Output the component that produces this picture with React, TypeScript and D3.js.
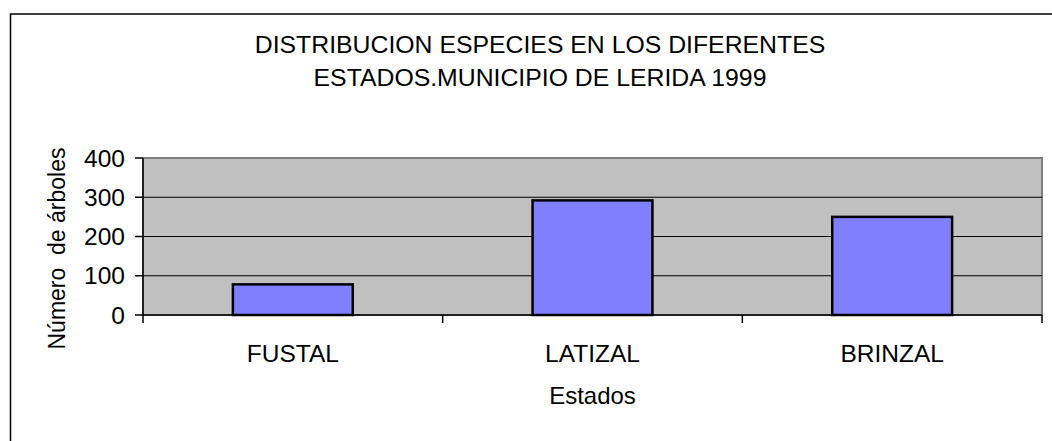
import React, { useEffect, useRef } from 'react';
import * as d3 from 'd3';

const categories = ['FUSTAL', 'LATIZAL', 'BRINZAL'];
const values = [78, 292, 250];
const yTicks = [0, 100, 200, 300, 400];
const titleLines = ['DISTRIBUCION ESPECIES EN LOS DIFERENTES', 'ESTADOS.MUNICIPIO DE LERIDA 1999'];
const xTitle = 'Estados';
const yTitle = 'Número  de árboles';

const W = 1052;
const H = 441;
const FONT = '"Liberation Sans", Arial, sans-serif';

const drawChart = (svgEl: SVGSVGElement) => {
    const svg = d3.select(svgEl);
    svg.selectAll('*').remove();

    const plot = { left: 143, right: 1042, top: 158, bottom: 315 };

    // outer chart border (right and bottom fall outside the picture)
    svg.append('rect')
        .attr('x', 10.5)
        .attr('y', 14)
        .attr('width', 1200)
        .attr('height', 600)
        .attr('fill', '#fff')
        .attr('stroke', '#000')
        .attr('stroke-width', 1.5);

    // --- Title ---
    titleLines.forEach((line, i) => {
        svg.append('text')
            .attr('x', 540)
            .attr('y', 53 + i * 33)
            .attr('text-anchor', 'middle')
            .style('font-family', FONT)
            .style('font-size', '24.8px')
            .style('fill', '#000')
            .text(line);
    });

    // --- Scales ---
    const x = d3.scaleBand<string>()
        .domain(categories)
        .range([plot.left, plot.right])
        .paddingInner(0.6)
        .paddingOuter(0.3);

    const y = d3.scaleLinear()
        .domain([0, 400])
        .range([plot.bottom, plot.top]);

    // plot background
    svg.append('rect')
        .attr('x', plot.left)
        .attr('y', plot.top)
        .attr('width', plot.right - plot.left)
        .attr('height', plot.bottom - plot.top)
        .attr('fill', '#c0c0c0')
        .attr('stroke', '#808080')
        .attr('stroke-width', 2);

    // gridlines
    svg.append('g')
        .selectAll('line')
        .data(yTicks.filter(t => t > 0 && t < 400))
        .enter()
        .append('line')
        .attr('x1', plot.left)
        .attr('x2', plot.right)
        .attr('y1', d => y(d))
        .attr('y2', d => y(d))
        .attr('stroke', '#000')
        .attr('stroke-width', 1);

    // --- Bars ---
    svg.append('g')
        .selectAll('rect')
        .data(values)
        .enter()
        .append('rect')
        .attr('x', (_d, i) => x(categories[i]) as number)
        .attr('y', d => y(d))
        .attr('width', x.bandwidth())
        .attr('height', d => y(0) - y(d))
        .attr('fill', '#8080ff')
        .attr('stroke', '#000')
        .attr('stroke-width', 2.5);

    // --- Axes ---
    const axisG = svg.append('g');
    axisG.append('line')
        .attr('x1', plot.left).attr('x2', plot.left)
        .attr('y1', plot.top).attr('y2', plot.bottom)
        .attr('stroke', '#000').attr('stroke-width', 1.5);
    axisG.append('line')
        .attr('x1', plot.left).attr('x2', plot.right)
        .attr('y1', plot.bottom).attr('y2', plot.bottom)
        .attr('stroke', '#000').attr('stroke-width', 1.5);

    yTicks.forEach(t => {
        axisG.append('line')
            .attr('x1', plot.left - 8).attr('x2', plot.left)
            .attr('y1', y(t)).attr('y2', y(t))
            .attr('stroke', '#000').attr('stroke-width', 1.5);
        axisG.append('text')
            .attr('x', 125)
            .attr('y', y(t))
            .attr('dy', '0.35em')
            .attr('text-anchor', 'end')
            .style('font-family', FONT)
            .style('font-size', '24.5px')
            .text(String(t));
    });

    // category boundary ticks
    const step = x.step();
    d3.range(categories.length + 1).forEach(i => {
        const bx = plot.left + i * step;
        axisG.append('line')
            .attr('x1', bx).attr('x2', bx)
            .attr('y1', plot.bottom).attr('y2', plot.bottom + 8)
            .attr('stroke', '#000').attr('stroke-width', 1.5);
    });

    categories.forEach(c => {
        axisG.append('text')
            .attr('x', (x(c) as number) + x.bandwidth() / 2)
            .attr('y', 362)
            .attr('text-anchor', 'middle')
            .style('font-family', FONT)
            .style('font-size', '24.5px')
            .text(c);
    });

    // axis titles
    svg.append('text')
        .attr('x', (plot.left + plot.right) / 2)
        .attr('y', 404)
        .attr('text-anchor', 'middle')
        .style('font-family', FONT)
        .style('font-size', '24px')
        .text(xTitle);

    svg.append('text')
        .attr('transform', `translate(65, ${(plot.top + plot.bottom) / 2 + 12}) rotate(-90)`)
        .attr('text-anchor', 'middle')
        .style('font-family', FONT)
        .style('font-size', '23px')
        .style('white-space', 'pre')
        .attr('xml:space', 'preserve')
        .text(yTitle);
};

const App: React.FC = () => {
    const ref = useRef<SVGSVGElement | null>(null);

    useEffect(() => {
        if (ref.current) drawChart(ref.current);
    }, []);

    return (
        <svg
            ref={ref}
            width={W}
            height={H}
            style={{ position: 'absolute', left: 0, top: 0, background: '#fff', display: 'block' }}
        />
    );
};

export default App;
